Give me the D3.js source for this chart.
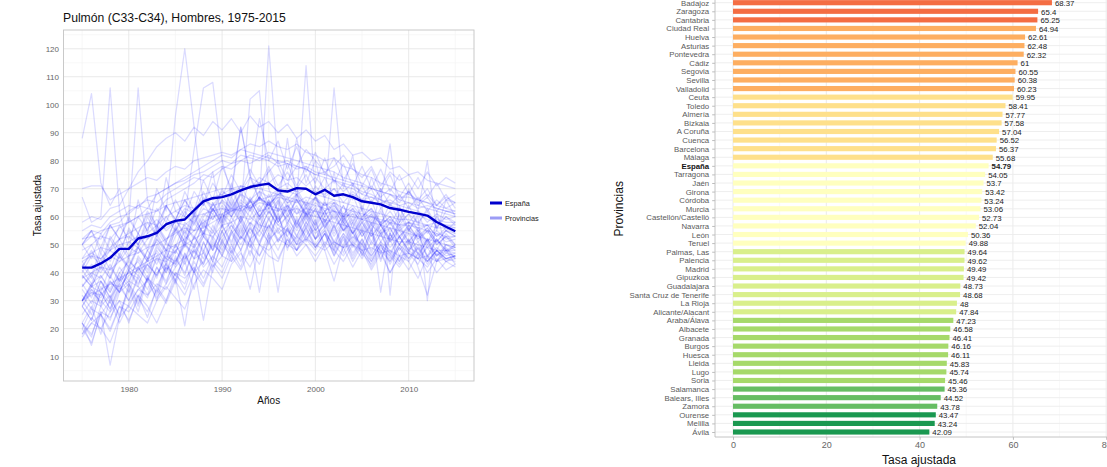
<!DOCTYPE html>
<html><head><meta charset="utf-8">
<script src="https://cdn.jsdelivr.net/npm/d3@7"></script>
<style>
body{margin:0;background:#fff;}
svg{display:block;}
text{font-family:"Liberation Sans",Arial,Helvetica,sans-serif;}
</style>
</head><body>
<svg id="c" width="1107" height="467"></svg>
<script>
// ---------------- DATA ----------------
const years = [1975,1976,1977,1978,1979,1980,1981,1982,1983,1984,1985,1986,1987,1988,1989,1990,1991,1992,1993,1994,1995,1996,1997,1998,1999,2000,2001,2002,2003,2004,2005,2006,2007,2008,2009,2010,2011,2012,2013,2014,2015];

const espana = [41.8,41.8,43.3,45.3,48.5,48.5,52.2,53.0,54.2,57.3,58.5,59.0,62.3,65.5,66.6,67.0,68.0,69.4,70.6,71.3,71.8,69.4,69.0,70.2,70.0,68.0,69.6,67.5,68.0,67.0,65.5,65.0,64.4,63.1,62.5,61.7,61.1,60.4,58.1,56.4,54.8];

const provinceNames = ["Barcelona","Valencia","Madrid","Bizkaia","Gipuzkoa","Asturias","Cantabria","Zaragoza","Sevilla","Cádiz","Huelva","Málaga","Ceuta","Melilla","Palmas, Las","Santa Cruz de Tenerife","Balears, Illes","Alicante/Alacant","Murcia","Tarragona","Girona","Lleida","Navarra","Araba/Álava","La Rioja","Soria","Ávila","Segovia","Zamora","Teruel","Cuenca","Guadalajara","Huesca","Palencia","Burgos","León","Salamanca","Lugo","Ourense","Pontevedra","A Coruña","Cáceres","Badajoz","Ciudad Real","Toledo","Albacete","Jaén","Córdoba","Granada","Almería","Valladolid","Castellón/Castelló"];

const provinceRates = [
[70,71,71,66,68, 70,72,74,73,76, 78,77,80,81,82, 83,82,84,83,82, 81,80,79,78,77, 75,74,73,71,70, 68,67,66,64,63, 62,61,59,58,57, 56],
[58,60,59,63,64, 70,76,80,85,88, 90,87,92,89,94, 91,95,90,96,92, 94,90,93,88,91, 87,89,84,86,82, 83,80,81,77,78, 75,76,73,72,71, 70],
[52,53,55,56,57, 58,60,61,62,64, 65,66,67,68,69, 70,70,71,70,70, 69,68,67,66,65, 64,63,62,61,60, 59,58,57,56,55, 54,53,52,51,50, 49],
[55,57,56,60,62, 64,63,67,68,70, 72,73,75,76,78, 80,79,82,81,80, 82,79,80,78,77, 75,76,73,72,71, 69,68,66,65,64, 63,62,60,59,58, 58],
[50,55,47,57,52, 59,54,61,56,64, 59,66,61,69,62, 70,64,71,65,72, 64,70,63,68,61, 67,60,65,58,63, 56,61,55,59,53, 57,52,55,50,53, 49],
[52,55,54,58,60, 61,64,66,65,68, 70,72,74,73,76, 78,77,80,79,81, 80,78,79,77,78, 76,75,74,73,72, 71,70,69,68,67, 67,66,65,64,63, 62],
[50,45,54,48,57, 52,60,55,63,58, 66,60,69,64,72, 67,75,69,77,71, 78,71,76,70,75, 68,74,67,72,66, 71,65,70,64,68, 63,67,62,66,63, 65],
[42,47,45,49,52, 53,50,56,59,55, 58,63,61,66,64, 69,67,71,70,74, 72,75,73,74,71, 74,70,73,69,72, 68,71,67,70,66, 69,65,68,64,67, 65],
[48,50,53,52,56, 58,60,63,62,66, 68,70,72,75,74, 77,79,80,82,81, 83,82,81,80,79, 78,77,76,74,73, 72,70,69,68,66, 65,64,63,62,61, 60],
[50,53,52,57,58, 62,64,63,68,70, 72,74,76,78,80, 82,81,84,86,85, 87,85,84,86,83, 82,80,81,78,77, 75,74,72,71,69, 68,66,65,63,62, 61],
[42,48,41,52,46, 56,50,60,53,64, 58,69,62,73,66, 78,70,92,74,95, 80,87,77,85,76, 83,75,81,73,79, 71,77,69,75,67, 72,66,70,64,68, 63],
[45,47,49,48,52, 54,56,58,57,60, 62,64,63,66,67, 68,70,69,71,72, 71,70,72,69,70, 68,67,66,65,64, 63,62,61,60,59, 59,58,57,56,56, 56],
[88,104,72,64,70, 58,106,66,55,74, 62,60,84,106,108, 80,68,92,75,66, 121,78,70,88,72, 80,66,106,70,82, 62,74,66,86,58, 70,62,80,55,66, 60],
[67,58,60,106,62, 48,66,54,70,62, 96,120,92,64,76, 58,72,62,102,105, 70,62,88,66,114, 68,60,76,58,72, 62,54,70,32,64, 55,60,30,62,48, 43],
[45,50,43,53,48, 55,50,58,53,60, 55,62,57,65,59, 66,60,68,62,69, 63,67,61,66,60, 64,58,63,57,61, 55,60,54,58,53, 56,51,55,50,53, 50],
[44,39,49,44,52, 46,54,49,57,51, 59,53,61,56,63, 57,64,58,66,60, 65,59,64,58,63, 57,62,56,60,54, 58,53,57,51,55, 50,54,49,52,48, 49],
[50,55,49,57,52, 60,54,62,57,64, 59,66,60,67,62, 68,62,69,63,67, 61,66,60,64,58, 63,56,61,55,59, 53,58,51,56,50, 54,48,52,46,49, 45],
[44,46,45,48,50, 51,53,52,55,56, 58,57,60,61,62, 63,62,64,63,65, 64,63,62,63,61, 60,59,58,57,56, 55,54,53,52,51, 51,50,49,48,48, 48],
[38,40,42,41,44, 46,47,49,50,52, 54,56,55,58,60, 61,63,62,64,66, 65,67,66,65,67, 66,64,65,63,62, 61,60,59,58,57, 57,56,55,54,53, 53],
[40,46,43,48,45, 51,49,54,57,52, 55,60,58,63,61, 66,63,68,66,69, 67,70,65,68,64, 67,62,65,60,63, 59,62,57,60,56, 58,55,57,53,56, 54],
[41,36,45,39,47, 42,50,45,54,48, 57,51,60,54,63, 57,65,59,66,60, 66,59,65,57,64, 56,62,55,61,54, 59,53,58,52,57, 51,56,51,55,52, 53],
[30,35,37,31,36, 42,39,45,47,41, 44,51,49,54,48, 53,57,52,58,55, 62,57,55,52,58, 54,57,51,49,53, 50,46,51,48,44, 49,47,44,48,45, 46],
[39,35,42,38,46, 41,49,44,52,47, 55,50,58,53,61, 56,63,58,64,59, 65,58,63,56,62, 55,60,54,59,52, 58,51,57,51,56, 51,55,50,54,51, 52],
[43,38,47,41,50, 45,54,48,56,51, 59,54,62,57,65, 59,67,61,66,60, 65,58,63,56,61, 55,59,53,58,51, 56,50,55,49,53, 48,51,46,49,46, 47],
[30,36,28,39,33, 41,35,45,38,48, 43,51,45,55,48, 57,50,60,52,61, 54,60,53,59,51, 58,50,57,49,56, 48,55,47,54,46, 52,47,51,46,50, 48],
[22,14,26,7,24, 34,26,38,30,42, 36,44,34,48,40, 52,44,56,46,58, 50,62,48,60,52, 56,48,37,50,58, 46,56,44,54,48, 52,42,32,44,48, 45],
[18,24,20,26,30, 22,32,28,22,30, 40,34,44,38,46, 42,50,44,52,33, 54,48,56,50,52, 48,54,46,52,44, 50,42,48,40,46, 44,38,46,40,44, 42],
[22,28,18,31,25, 35,28,39,32,43, 37,47,40,51,44, 55,48,59,51,63, 55,66,57,68,59, 67,58,64,60,68, 59,66,57,65,58, 64,57,63,56,62, 61],
[22,18,26,24,30, 28,34,32,36,34, 40,38,42,23,42, 46,44,48,34,50, 48,52,50,48,52, 50,48,51,49,50, 48,49,47,48,46, 47,45,46,44,45, 44],
[18,22,25,20,28, 26,32,24,35,30, 38,21,42,36,44, 40,48,42,52,46, 54,33,56,50,58, 52,56,48,60,54, 50,58,33,54,50, 56,46,52,48,54, 50],
[20,27,25,30,22, 29,34,37,31,36, 42,46,40,44,50, 47,54,58,52,55, 62,57,60,66,61, 57,65,62,58,54, 60,63,57,52,58, 61,55,51,57,60, 57],
[22,17,28,32,24, 36,29,38,33,44, 37,47,40,51,44, 55,47,57,49,60, 52,61,50,58,53, 59,49,57,47,55, 46,54,45,52,44, 51,45,52,44,50, 49],
[28,23,33,27,36, 30,39,34,42,37, 45,40,48,43,51, 46,54,48,56,50, 57,51,56,48,55, 49,54,46,53,45, 51,44,50,43,49, 44,49,43,48,44, 46],
[28,23,33,27,35, 30,38,32,42,36, 46,39,49,43,52, 46,55,48,57,50, 60,51,58,53,61, 52,58,50,56,49, 55,47,54,46,53, 47,55,45,52,48, 50],
[34,29,37,31,39, 35,42,37,45,40, 48,43,50,45,53, 48,55,50,56,51, 57,52,55,50,56, 49,54,47,53,46, 52,45,50,44,49, 45,50,44,48,45, 46],
[30,34,29,37,33, 41,36,43,39,47, 42,50,45,53,48, 57,51,60,54,59, 63,55,61,53,60, 52,59,51,57,50, 55,48,54,47,53, 48,54,46,52,47, 50],
[28,33,30,26,34, 37,35,31,40,43, 39,45,48,42,46, 51,47,53,50,46, 52,55,49,53,50, 46,51,48,44,50, 47,43,49,46,42, 47,45,42,47,44, 45],
[17,22,20,15,24, 28,25,22,30,35, 31,27,36,41,38, 34,43,47,42,50, 46,44,52,48,53, 49,54,50,46,51, 48,44,50,47,43, 48,45,49,44,47, 46],
[20,15,25,19,28, 23,31,26,34,29, 37,32,40,35,43, 38,46,41,48,43, 51,45,52,46,50, 44,50,43,49,42, 48,41,47,40,46, 41,47,40,45,41, 43],
[30,33,32,36,38, 40,42,44,46,48, 50,52,55,56,58, 60,62,63,65,66, 67,68,69,68,70, 69,68,70,67,68, 66,67,65,66,64, 65,63,64,63,62, 62],
[30,32,34,36,35, 39,41,43,45,44, 48,50,52,54,53, 57,58,60,59,62, 63,62,64,61,63, 62,61,62,60,61, 59,60,58,59,57, 58,57,57,58,57, 57],
[30,36,39,33,40, 44,41,48,51,45, 53,57,52,60,64, 65,61,69,74,72, 76,80,73,78,84, 80,76,78,82,77, 74,78,71,76,73, 75,70,76,71,74, 72],
[32,27,37,33,40, 36,46,41,50,44, 56,49,61,53,65, 58,70,62,74,66, 77,69,79,71,78, 72,81,72,79,71, 78,70,77,69,75, 68,74,67,72,66, 68],
[28,34,31,37,33, 41,44,38,49,45, 43,53,50,57,54, 61,58,64,60,67, 63,69,66,70,64, 71,67,70,65,69, 66,70,63,68,65, 69,64,67,62,66, 65],
[30,25,35,30,38, 33,42,37,46,40, 50,44,53,47,57, 51,60,54,63,56, 66,58,64,57,65, 58,66,57,64,56, 63,55,62,54,61, 55,61,54,60,55, 58],
[25,30,28,23,33, 36,31,38,35,42, 39,36,45,47,42, 50,46,53,49,55, 51,56,53,48,57, 52,55,49,54,50, 45,51,48,44,50, 47,43,50,46,48, 47],
[30,35,33,29,37, 40,38,43,39,46, 44,50,47,53,49, 55,58,53,60,57, 56,63,59,55,61, 62,57,60,55,58, 53,57,54,56,50, 55,53,56,51,55, 54],
[35,39,33,42,37, 45,40,48,43,51, 47,55,49,58,52, 61,55,63,57,64, 59,65,58,63,56, 63,56,62,55,60, 54,59,53,58,52, 57,52,56,51,55, 53],
[36,31,39,34,42, 37,45,40,48,43, 50,45,53,48,55, 50,57,52,58,53, 59,54,57,51,56, 50,55,48,54,47, 52,46,51,45,50, 45,49,44,48,45, 46],
[35,40,38,43,37, 46,49,44,52,48, 47,56,53,59,55, 63,60,65,62,67, 64,68,70,69,63, 67,64,66,61,64, 60,63,58,62,57, 61,58,62,56,60, 58],
[39,35,43,38,46, 42,49,45,53,48, 56,51,59,54,63, 58,66,60,67,62, 68,62,67,61,66, 60,65,59,64,58, 64,57,63,57,63, 58,62,58,61,59, 60],
[38,43,40,46,44, 49,47,52,55,50, 49,58,55,61,59, 64,60,66,63,67, 64,68,65,66,61, 65,62,64,59,62, 58,61,57,60,55, 58,56,57,53,55, 53]
];

const barNames = ["Badajoz","Zaragoza","Cantabria","Ciudad Real","Huelva","Asturias","Pontevedra","Cádiz","Segovia","Sevilla","Valladolid","Ceuta","Toledo","Almería","Bizkaia","A Coruña","Cuenca","Barcelona","Málaga","España","Tarragona","Jaén","Girona","Córdoba","Murcia","Castellón/Castelló","Navarra","León","Teruel","Palmas, Las","Palencia","Madrid","Gipuzkoa","Guadalajara","Santa Cruz de Tenerife","La Rioja","Alicante/Alacant","Araba/Álava","Albacete","Granada","Burgos","Huesca","Lleida","Lugo","Soria","Salamanca","Balears, Illes","Zamora","Ourense","Melilla","Ávila"];
const barValues = [68.37,65.4,65.25,64.94,62.61,62.48,62.32,61,60.55,60.38,60.23,59.95,58.41,57.77,57.58,57.04,56.52,56.37,55.68,54.79,54.05,53.7,53.42,53.24,53.06,52.73,52.04,50.36,49.88,49.64,49.62,49.49,49.42,48.73,48.68,48,47.84,47.23,46.58,46.41,46.16,46.11,45.83,45.74,45.46,45.36,44.52,43.78,43.47,43.24,42.09];
const colorBreaks = [43.6,45.4,47.5,49.75,55,60.1,65.1,70];

const leftXTicks = [1980,1990,2000,2010];
const leftXMinor = [1975,1985,1995,2005,2015];
const leftYTicks = [10,20,30,40,50,60,70,80,90,100,110,120];
const leftYMinor = [5,15,25,35,45,55,65,75,85,95,105,115,125];
const rightXTicks = [0,20,40,60,80];
const rightXMinor = [10,30,50,70];

const titleText = "Pulmón (C33-C34), Hombres, 1975-2015";
const legendLabels = ["España","Provincias"];

// ---------------- DRAW ----------------
const svg = d3.select("#c");

// ===== Left chart =====
const L = {l:63.5, r:474, t:30, b:381};
const xExt = d3.extent(years), xPad = (xExt[1]-xExt[0])*0.05;
const allVals = provinceRates.flat().concat(espana);
const yExt = d3.extent(allVals), yPad = (yExt[1]-yExt[0])*0.05;
const xL = d3.scaleLinear().domain([xExt[0]-xPad, xExt[1]+xPad]).range([L.l, L.r]);
const yL = d3.scaleLinear().domain([yExt[0]-yPad, yExt[1]+yPad]).range([L.b, L.t]);

const gL = svg.append("g");
gL.append("rect").attr("x",L.l).attr("y",L.t).attr("width",L.r-L.l).attr("height",L.b-L.t).attr("fill","#fff");
gL.selectAll(".vminor").data(leftXMinor).join("line")
  .attr("x1",d=>xL(d)).attr("x2",d=>xL(d)).attr("y1",L.t).attr("y2",L.b)
  .attr("stroke","#f3f3f3").attr("stroke-width",0.6);
gL.selectAll(".hminor").data(leftYMinor.filter(d=>yL(d)>=L.t && yL(d)<=L.b)).join("line")
  .attr("x1",L.l).attr("x2",L.r).attr("y1",d=>yL(d)).attr("y2",d=>yL(d))
  .attr("stroke","#f3f3f3").attr("stroke-width",0.6);
gL.selectAll(".vmajor").data(leftXTicks).join("line")
  .attr("x1",d=>xL(d)).attr("x2",d=>xL(d)).attr("y1",L.t).attr("y2",L.b)
  .attr("stroke","#e6e6e6").attr("stroke-width",0.9);
gL.selectAll(".hmajor").data(leftYTicks).join("line")
  .attr("x1",L.l).attr("x2",L.r).attr("y1",d=>yL(d)).attr("y2",d=>yL(d))
  .attr("stroke","#e6e6e6").attr("stroke-width",0.9);

const line = d3.line().x((d,i)=>xL(years[i])).y(d=>yL(d));
gL.append("g").selectAll("path").data(provinceRates).join("path")
  .attr("d",line).attr("fill","none").attr("stroke","#0000ff")
  .attr("stroke-opacity",0.14).attr("stroke-width",1.25).attr("stroke-linejoin","round");
gL.append("path").attr("d",line(espana)).attr("fill","none")
  .attr("stroke","#0000cd").attr("stroke-width",2.4).attr("stroke-linejoin","round");

gL.append("rect").attr("x",L.l).attr("y",L.t).attr("width",L.r-L.l).attr("height",L.b-L.t)
  .attr("fill","none").attr("stroke","#c4c4c4").attr("stroke-width",0.9);

const axLY = gL.append("g").attr("transform",`translate(${L.l},0)`)
  .call(d3.axisLeft(yL).tickValues(leftYTicks).tickSize(0).tickPadding(4.5));
axLY.select(".domain").remove();
axLY.selectAll("text").attr("font-size",8).attr("fill","#666").attr("font-family",'"Liberation Sans",Arial,sans-serif');
const axLX = gL.append("g").attr("transform",`translate(0,${L.b})`)
  .call(d3.axisBottom(xL).tickValues(leftXTicks).tickFormat(d3.format("d")).tickSize(0).tickPadding(5.5));
axLX.select(".domain").remove();
axLX.selectAll("text").attr("font-size",8).attr("fill","#666").attr("font-family",'"Liberation Sans",Arial,sans-serif');

svg.append("text").attr("x",63).attr("y",22).attr("font-size",12.2).attr("fill","#111").text(titleText);
svg.append("text").attr("x",(L.l+L.r)/2).attr("y",404).attr("text-anchor","middle")
  .attr("font-size",10).attr("fill","#111").text("Años");
svg.append("text").attr("transform",`translate(41,${(L.t+L.b)/2}) rotate(-90)`)
  .attr("text-anchor","middle").attr("font-size",10).attr("fill","#111").text("Tasa ajustada");

const leg = svg.append("g");
const legColors = ["#0000cd","#9c9cf5"];
legendLabels.forEach((lab,i)=>{
  const yy = 203 + i*15;
  leg.append("line").attr("x1",490).attr("x2",502).attr("y1",yy).attr("y2",yy)
    .attr("stroke",legColors[i]).attr("stroke-width",3);
  leg.append("text").attr("x",505).attr("y",yy).attr("dy","0.35em")
    .attr("font-size",7.3).attr("fill","#222").text(lab);
});

// ===== Right chart =====
const R = {l:715, r:1123, b:437};
const xR = d3.scaleLinear().domain([-3.86, 83.6]).range([R.l, R.r]);
const yR = d3.scalePoint().domain(barNames).range([2.7, 432]);
const color = d3.scaleThreshold().domain(colorBreaks).range(d3.schemeRdYlGn[9].slice().reverse());

const gR = svg.append("g");
gR.selectAll(".rvmin").data(rightXMinor).join("line")
  .attr("x1",d=>xR(d)).attr("x2",d=>xR(d)).attr("y1",0).attr("y2",R.b)
  .attr("stroke","#f3f3f3").attr("stroke-width",0.6);
gR.selectAll(".rvmaj").data(rightXTicks).join("line")
  .attr("x1",d=>xR(d)).attr("x2",d=>xR(d)).attr("y1",0).attr("y2",R.b)
  .attr("stroke","#e8e8e8").attr("stroke-width",0.9);
gR.selectAll(".rh").data(barNames).join("line")
  .attr("x1",R.l).attr("x2",R.r).attr("y1",d=>yR(d)).attr("y2",d=>yR(d))
  .attr("stroke","#ececec").attr("stroke-width",0.9);

const bh = yR.step()*0.6;
gR.selectAll(".bar").data(barNames).join("rect")
  .attr("x",xR(0)).attr("y",d=>yR(d)-bh/2)
  .attr("width",(d,i)=>xR(barValues[i])-xR(0)).attr("height",bh)
  .attr("fill",(d,i)=>color(barValues[i]));

gR.selectAll(".val").data(barNames).join("text")
  .attr("x",(d,i)=>xR(barValues[i])+3).attr("y",d=>yR(d)+0.6).attr("dy","0.35em")
  .attr("font-size",7.8).attr("fill","#222")
  .attr("font-weight",d=>d==="España"?"bold":"normal")
  .text((d,i)=>barValues[i]);

gR.append("line").attr("x1",R.l).attr("x2",R.l).attr("y1",0).attr("y2",R.b).attr("stroke","#bdbdbd").attr("stroke-width",0.9);
gR.append("line").attr("x1",R.l).attr("x2",1107).attr("y1",R.b).attr("y2",R.b).attr("stroke","#bdbdbd").attr("stroke-width",0.9);

const axRY = gR.append("g").attr("transform",`translate(${R.l},0)`)
  .call(d3.axisLeft(yR).tickSize(2.8).tickPadding(3));
axRY.select(".domain").remove();
axRY.selectAll("line").attr("stroke","#bdbdbd");
axRY.selectAll("text").attr("font-size",7.8).attr("fill",d=>d==="España"?"#111":"#5a5a5a")
  .attr("font-weight",d=>d==="España"?"bold":"normal")
  .attr("font-family",'"Liberation Sans",Arial,sans-serif');

const axRX = gR.append("g").attr("transform",`translate(0,${R.b})`)
  .call(d3.axisBottom(xR).tickValues(rightXTicks).tickSize(2.8).tickPadding(2.2));
axRX.select(".domain").remove();
axRX.selectAll("line").attr("stroke","#bdbdbd");
axRX.selectAll("text").attr("font-size",9).attr("fill","#666").attr("font-family",'"Liberation Sans",Arial,sans-serif');

svg.append("text").attr("x",919).attr("y",464).attr("text-anchor","middle")
  .attr("font-size",12).attr("fill","#111").text("Tasa ajustada");
svg.append("text").attr("transform",`translate(622.5,208.8) rotate(-90)`)
  .attr("text-anchor","middle").attr("font-size",12).attr("fill","#111").text("Provincias");
</script>
</body></html>
